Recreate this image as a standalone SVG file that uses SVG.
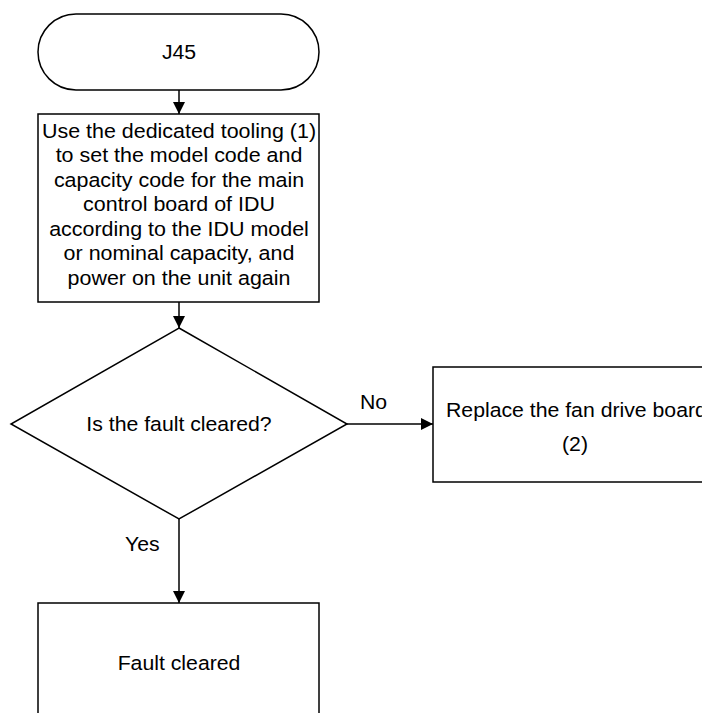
<svg xmlns="http://www.w3.org/2000/svg" width="702" height="713" viewBox="0 0 702 713">
<style>
.s{fill:#fff;stroke:#000;stroke-width:1.5}
.t{font-family:"Liberation Sans",Arial,sans-serif;font-size:19.5px;fill:#000;text-anchor:middle}
.l{font-family:"Liberation Sans",Arial,sans-serif;font-size:19.5px;fill:#000}
.c{fill:none;stroke:#000;stroke-width:1.5}
</style>
<defs>
<marker id="ah" markerWidth="12" markerHeight="12" refX="12" refY="6" orient="auto" markerUnits="userSpaceOnUse">
<path d="M0,0 L12,6 L0,12 Z" fill="#000"/>
</marker>
</defs>
<rect width="702" height="713" fill="#fff"/>
<g id="connectors">
<line class="c" x1="179" y1="90" x2="179" y2="114" marker-end="url(#ah)"/>
<line class="c" x1="179" y1="302" x2="179" y2="328" marker-end="url(#ah)"/>
<line class="c" x1="347" y1="424" x2="433" y2="424" marker-end="url(#ah)"/>
<line class="c" x1="179" y1="519" x2="179" y2="603" marker-end="url(#ah)"/>
<text class="l" transform="matrix(1.09 0 0 1 360 0)" x="0" y="409">No</text>
<text class="l" transform="matrix(1.09 0 0 1 125 0)" x="0" y="551">Yes</text>
</g>
<g id="start">
<rect class="s" x="38" y="14" width="281" height="76" rx="38" ry="38"/>
<text class="t" transform="matrix(1.09 0 0 1 179 0)" x="0" y="59">J45</text>
</g>
<g id="setcode">
<rect class="s" x="38" y="114" width="281" height="188"/>
<g transform="matrix(1.1 0 0 1 179 0)">
<text class="t" x="0" y="138">Use the dedicated tooling (1)</text>
<text class="t" x="0" y="162.5">to set the model code and</text>
<text class="t" x="0" y="187">capacity code for the main</text>
<text class="t" x="0" y="211.5">control board of IDU</text>
<text class="t" x="0" y="236">according to the IDU model</text>
<text class="t" x="0" y="260.5">or nominal capacity, and</text>
<text class="t" x="0" y="285">power on the unit again</text>
</g>
</g>
<g id="decision">
<polygon class="s" points="179,328 347,424 179,519 11,424"/>
<text class="t" transform="matrix(1.09 0 0 1 179 0)" x="0" y="431">Is the fault cleared?</text>
</g>
<g id="replace">
<rect class="s" x="433" y="367" width="284" height="115"/>
<text class="l" transform="matrix(1.09 0 0 1 446 0)" x="0" y="417">Replace the fan drive board</text>
<text class="t" transform="matrix(1.09 0 0 1 575 0)" x="0" y="451">(2)</text>
</g>
<g id="cleared">
<rect class="s" x="38" y="603" width="281" height="130"/>
<text class="t" transform="matrix(1.09 0 0 1 179 0)" x="0" y="670">Fault cleared</text>
</g>
</svg>
